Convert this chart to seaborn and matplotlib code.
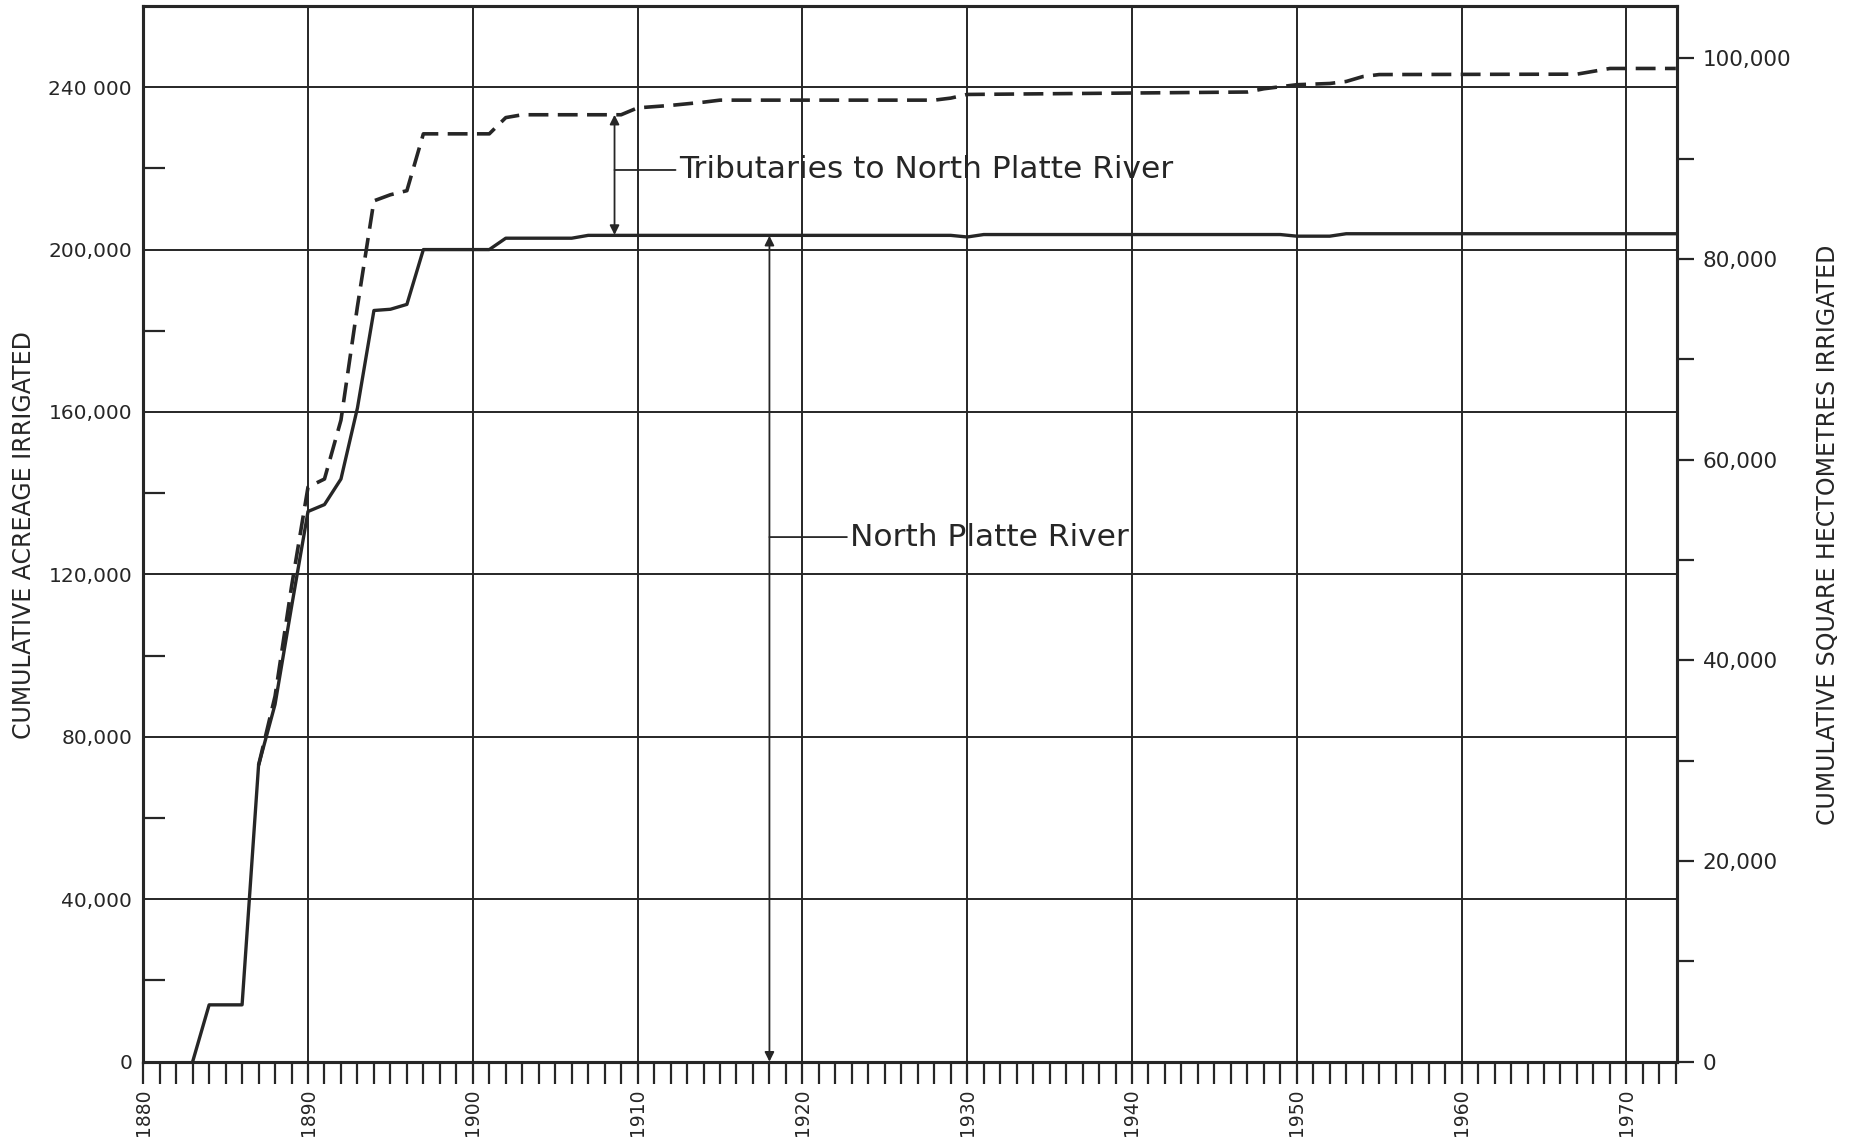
import matplotlib
matplotlib.use("Agg")
import matplotlib.pyplot as plt
import seaborn as sns
from matplotlib.ticker import FixedLocator, FixedFormatter

# North Platte River, cumulative acreage irrigated (solid line)
river_years = [1883, 1884, 1886, 1887, 1888, 1889, 1890, 1891, 1892, 1893, 1894,
               1895, 1896, 1897, 1901, 1902, 1906, 1907, 1929, 1930, 1931, 1949,
               1950, 1952, 1953, 1973]
river_acres = [0, 14000, 14000, 73000, 88000, 112000, 135500, 137200, 143500,
               161000, 185000, 185300, 186500, 200000, 200000, 202800, 202800,
               203500, 203500, 203100, 203700, 203700, 203300, 203300, 203900,
               203900]

# river plus tributaries (dashed line)
total_years = [1887, 1888, 1889, 1890, 1891, 1892, 1893, 1894, 1895, 1896, 1897,
               1901, 1902, 1903, 1909, 1910, 1912, 1914, 1915, 1928, 1929, 1930,
               1947, 1948, 1950, 1952, 1953, 1954, 1955, 1967, 1968, 1969, 1973]
total_acres = [73000, 90000, 117000, 141500, 143500, 158000, 186000, 212000,
               213500, 214500, 228500, 228500, 232500, 233200, 233200, 234900,
               235500, 236300, 236800, 236800, 237300, 238200, 238800, 239600,
               240600, 240900, 241400, 242600, 243100, 243200, 243900, 244600,
               244600]

acre_ticks = [0, 40000, 80000, 120000, 160000, 200000, 240000]
acre_labels = ["0", "40,000", "80,000", "120,000", "160,000", "200,000", "240 000"]
acre_minor = [20000, 60000, 100000, 140000, 180000, 220000]
ha_ticks = list(range(0, 100001, 10000))
ha_labels = ["0", "", "20,000", "", "40,000", "", "60,000", "", "80,000", "", "100,000"]
decades = list(range(1880, 1971, 10))
years = [y for y in range(1880, 1974) if y % 10 != 0]

ACRE_TO_HA = 0.404686
ink = "#262626"

sns.set_style("white")
plt.rcParams["font.family"] = ["DejaVu Sans"]

fig, ax = plt.subplots(figsize=(18.55, 11.41), dpi=100)
fig.subplots_adjust(left=0.0772, right=0.9043, bottom=0.0695, top=0.9948)

sns.lineplot(x=river_years, y=river_acres, ax=ax, color=ink, lw=2.4, estimator=None)
sns.lineplot(x=total_years, y=total_acres, ax=ax, color=ink, lw=2.6,
             linestyle=(0, (5.5, 2.6)), estimator=None)

ax.set_xlim(1880, 1973.1)
ax.set_ylim(0, 260000)
ax.set_xlabel("")
ax.set_ylabel("")

ax.xaxis.set_major_locator(FixedLocator(decades))
ax.xaxis.set_major_formatter(FixedFormatter([str(d) for d in decades]))
ax.xaxis.set_minor_locator(FixedLocator(years))
ax.tick_params(axis="x", which="both", direction="out", length=16, width=1.6,
               color=ink, bottom=True)
ax.tick_params(axis="x", which="major", labelsize=13.5, labelrotation=90, pad=3,
               labelcolor=ink)

ax.yaxis.set_major_locator(FixedLocator(acre_ticks))
ax.yaxis.set_major_formatter(FixedFormatter(acre_labels))
ax.yaxis.set_minor_locator(FixedLocator(acre_minor))
ax.tick_params(axis="y", which="major", length=0, pad=8, labelsize=14.5, labelcolor=ink)
ax.tick_params(axis="y", which="minor", direction="in", length=16, width=1.6,
               left=True, right=True, color=ink)

ax.grid(True, which="major", color=ink, lw=1.4)
for s in ax.spines.values():
    s.set_visible(True)
    s.set_color(ink)
    s.set_linewidth(2.2)

ax2 = ax.twinx()
ax2.set_ylim(0, 260000 * ACRE_TO_HA)
ax2.yaxis.set_major_locator(FixedLocator(ha_ticks))
ax2.yaxis.set_major_formatter(FixedFormatter(ha_labels))
ax2.tick_params(axis="y", direction="out", length=12, width=1.6, pad=6,
                labelsize=15.5, color=ink, labelcolor=ink)
ax2.grid(False)
for s in ax2.spines.values():
    s.set_color(ink)
    s.set_linewidth(2.2)

arrow_kw = dict(arrowstyle="<|-|>", color=ink, lw=1.3, mutation_scale=14,
                shrinkA=0, shrinkB=0)
ax.annotate("", xy=(1908.6, 233200), xytext=(1908.6, 203600), arrowprops=arrow_kw)
ax.annotate("Tributaries to North Platte River", xy=(1908.6, 219600),
            xytext=(1912.5, 219600), va="center", ha="left", fontsize=22.5, color=ink,
            arrowprops=dict(arrowstyle="-", color=ink, lw=1.3, shrinkA=0, shrinkB=0,
                            relpos=(0, 0.5)))
ax.annotate("", xy=(1918.0, 203400), xytext=(1918.0, 0), arrowprops=arrow_kw)
ax.annotate("North Platte River", xy=(1918.0, 129200),
            xytext=(1922.9, 129200), va="center", ha="left", fontsize=22.5, color=ink,
            arrowprops=dict(arrowstyle="-", color=ink, lw=1.3, shrinkA=0, shrinkB=0,
                            relpos=(0, 0.5)))

fig.text(0.0128, 0.531, "CUMULATIVE ACREAGE IRRIGATED", rotation=90,
         va="center", ha="center", fontsize=17, color=ink)
fig.text(0.9853, 0.531, "CUMULATIVE SQUARE HECTOMETRES IRRIGATED", rotation=90,
         va="center", ha="center", fontsize=17, color=ink)

fig.savefig("out.png", dpi=100, facecolor="white")
